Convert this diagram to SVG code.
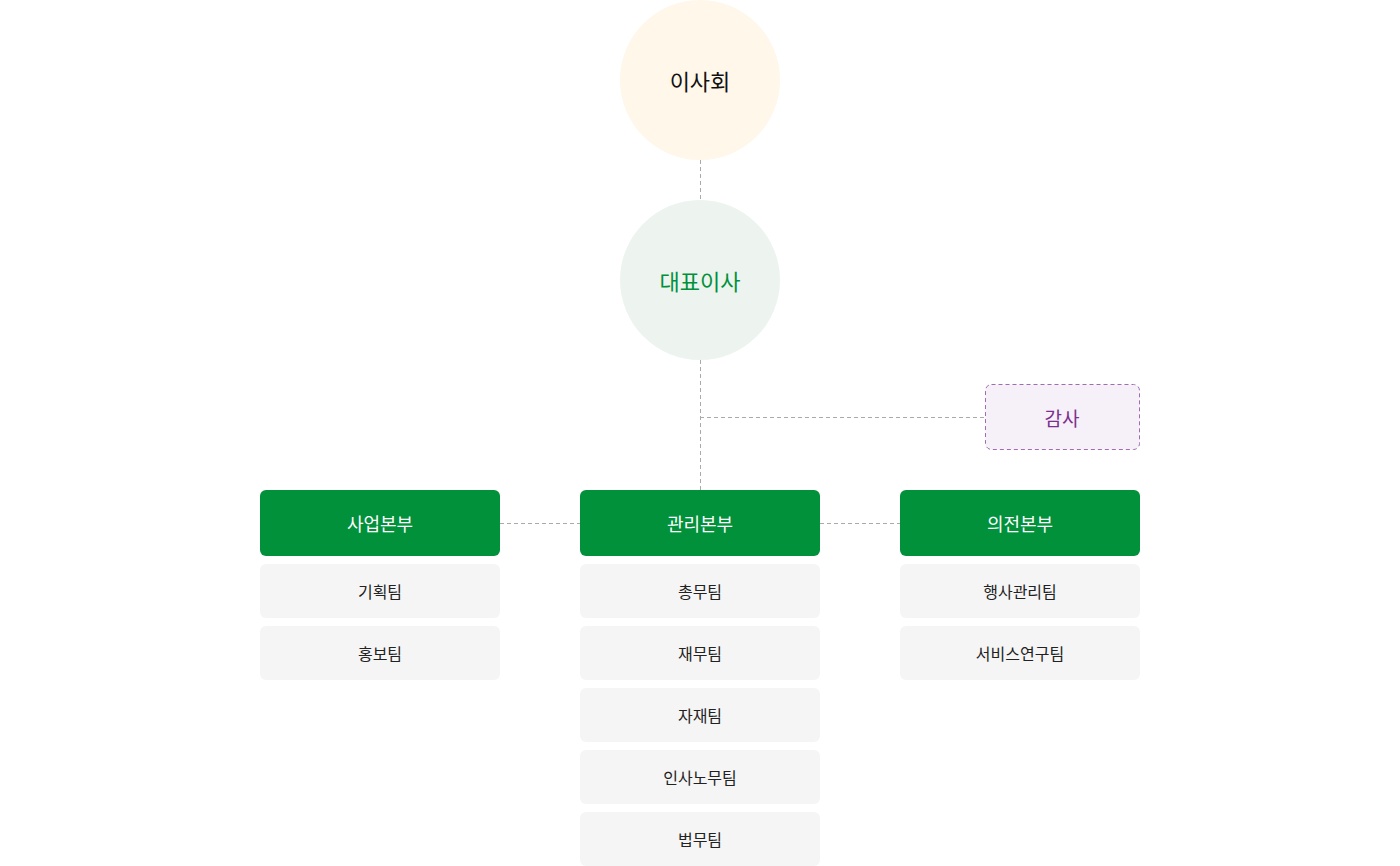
<svg xmlns="http://www.w3.org/2000/svg" width="1400" height="866" viewBox="0 0 1400 866">
<style>
text{font-family:"Noto Sans CJK KR","Noto Sans",sans-serif;text-anchor:middle;dominant-baseline:central}
.ln{stroke:#aaa;stroke-width:1;stroke-dasharray:4 3;fill:none}
.hq{fill:#00913a}
.hqt{fill:#fff;font-size:18px}
.tm{fill:#f5f5f5}
.tmt{fill:#222;font-size:16px}
</style>
<rect width="1400" height="866" fill="#fff"/>
<g id="connectors">
<path class="ln" d="M700.5 160V200M700.5 360V490M700 417.5H985M500 523.5H580M820 523.5H900"/>
</g>
<g id="board"><circle cx="700" cy="80" r="80" fill="#fef7ea"/><text x="700" y="80" font-size="22" fill="#111">이사회</text></g>
<g id="ceo"><circle cx="700" cy="280" r="80" fill="#edf3ef"/><text x="700" y="280" font-size="22" fill="#00913a">대표이사</text></g>
<g id="audit"><rect x="985.5" y="384.5" width="154" height="65" rx="6" fill="#f6f0f8" stroke="#a46bb5" stroke-dasharray="4 3"/><text x="1062" y="417" font-size="19" fill="#7b2f8e">감사</text></g>
<g id="biz"><rect class="hq" x="260" y="490" width="240" height="66" rx="6"/><text class="hqt" x="380" y="523">사업본부</text></g>
<g id="mgmt"><rect class="hq" x="580" y="490" width="240" height="66" rx="6"/><text class="hqt" x="700" y="523">관리본부</text></g>
<g id="cer"><rect class="hq" x="900" y="490" width="240" height="66" rx="6"/><text class="hqt" x="1020" y="523">의전본부</text></g>
<g id="t1"><rect class="tm" x="260" y="564" width="240" height="54" rx="6"/><text class="tmt" x="380" y="591">기획팀</text></g>
<g id="t2"><rect class="tm" x="260" y="626" width="240" height="54" rx="6"/><text class="tmt" x="380" y="653">홍보팀</text></g>
<g id="t3"><rect class="tm" x="580" y="564" width="240" height="54" rx="6"/><text class="tmt" x="700" y="591">총무팀</text></g>
<g id="t4"><rect class="tm" x="580" y="626" width="240" height="54" rx="6"/><text class="tmt" x="700" y="653">재무팀</text></g>
<g id="t5"><rect class="tm" x="580" y="688" width="240" height="54" rx="6"/><text class="tmt" x="700" y="715">자재팀</text></g>
<g id="t6"><rect class="tm" x="580" y="750" width="240" height="54" rx="6"/><text class="tmt" x="700" y="777">인사노무팀</text></g>
<g id="t7"><rect class="tm" x="580" y="812" width="240" height="54" rx="6"/><text class="tmt" x="700" y="839">법무팀</text></g>
<g id="t8"><rect class="tm" x="900" y="564" width="240" height="54" rx="6"/><text class="tmt" x="1020" y="591">행사관리팀</text></g>
<g id="t9"><rect class="tm" x="900" y="626" width="240" height="54" rx="6"/><text class="tmt" x="1020" y="653">서비스연구팀</text></g>
</svg>
